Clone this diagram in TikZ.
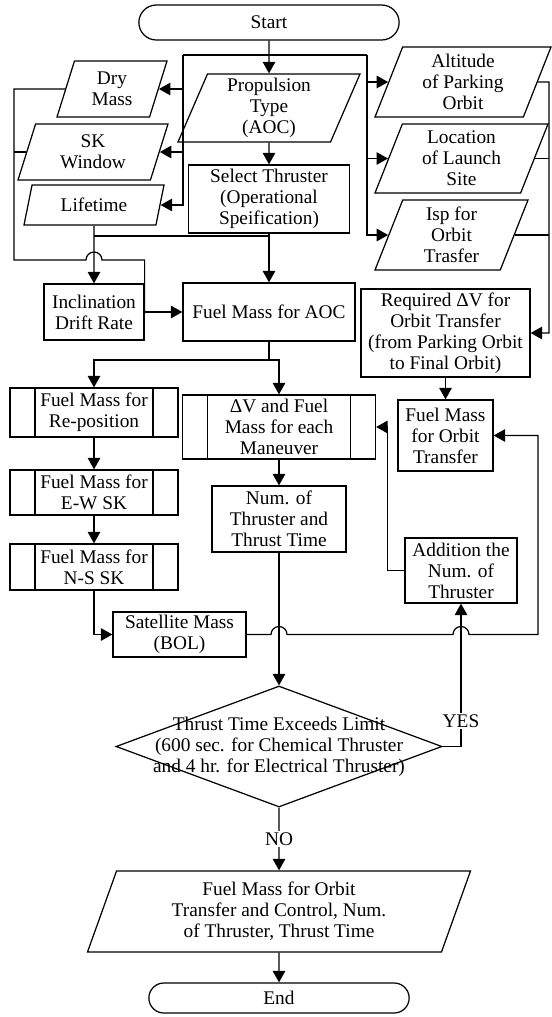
\documentclass[tikz,border=0pt]{standalone}
\usepackage{fontspec}
\setmainfont{Liberation Serif}
\usepackage{tikz}
\usetikzlibrary{shapes.geometric,shapes.misc,arrows.meta}

\tikzset{
  term/.style={draw,rounded rectangle,minimum width=5.44cm},
  io/.style={draw,trapezium,trapezium left angle=65,trapezium right angle=115,
    trapezium stretches body,align=center,inner sep=1pt},
  proc/.style={draw,rectangle,align=center,inner sep=1pt},
  sub/.style={proc,path picture={
    \draw ([xshift=0.5cm]path picture bounding box.north west) -- ([xshift=0.5cm]path picture bounding box.south west)
          ([xshift=-0.5cm]path picture bounding box.north east) -- ([xshift=-0.5cm]path picture bounding box.south east);}},
  dec/.style={draw,diamond,inner sep=0pt},
  arr/.style={-{Triangle[length=0.23cm,width=0.25cm]}}
}

\begin{document}
\begin{tikzpicture}[line width=0.7pt,font=\fontsize{11}{12}\selectfont]
  \useasboundingbox (0,0) rectangle (11.02,-20.34);
  % inputs
  \node[term,minimum height=0.70cm] (start) at (5.38,-0.45) {Start};
  \node[io,minimum width=3.64cm,minimum height=1.36cm] (prop) at (5.38,-2.16) {Propulsion\\Type\\(AOC)};
  \node[io,minimum width=2.20cm,minimum height=1.12cm] (dry) at (2.24,-1.78) {Dry\\Mass};
  \node[io,minimum width=3.00cm,minimum height=1.12cm] (sk) at (1.86,-3.04) {SK\\Window};
  \node[io,minimum width=2.80cm,minimum height=0.80cm] (life) at (1.88,-4.10) {Lifetime};
  \node[io,minimum width=3.52cm,minimum height=1.40cm] (alt) at (9.26,-1.64) {Altitude\\of Parking\\Orbit};
  \node[io,minimum width=3.46cm,minimum height=1.38cm] (loc) at (9.23,-3.17) {Location\\of Launch\\Site};
  \node[io,minimum width=3.06cm,minimum height=1.40cm] (isp) at (9.03,-4.70) {Isp for\\Orbit\\Trasfer};
  \node[proc,minimum width=3.22cm,minimum height=1.36cm] (sel) at (5.38,-3.98) {Select Thruster\\(Operational\\Speification)};
  % fuel mass blocks
  \node[proc,minimum width=3.44cm,minimum height=1.16cm] (aoc) at (5.38,-6.24) {Fuel Mass for AOC};
  \node[proc,minimum width=2.00cm,minimum height=1.12cm] (incl) at (1.88,-6.24) {Inclination\\Drift Rate};
  \node[proc,minimum width=3.38cm,minimum height=1.76cm] (req) at (8.91,-6.66) {Required ΔV for\\Orbit Transfer\\(from Parking Orbit\\to Final Orbit)};
  \node[proc,minimum width=1.90cm,minimum height=1.42cm] (forb) at (8.91,-8.71) {Fuel Mass\\for Orbit\\Transfer};
  \node[sub,minimum width=3.36cm,minimum height=0.98cm] (repos) at (1.88,-8.25) {Fuel Mass for\\Re-position};
  \node[sub,minimum width=3.36cm,minimum height=0.90cm] (ew) at (1.88,-9.85) {Fuel Mass for\\E-W SK};
  \node[sub,minimum width=3.36cm,minimum height=0.92cm] (ns) at (1.88,-11.34) {Fuel Mass for\\N-S SK};
  \node[sub,minimum width=3.86cm,minimum height=1.28cm] (man) at (5.58,-8.54) {ΔV and Fuel\\Mass for each\\Maneuver};
  \node[proc,minimum width=2.68cm,minimum height=1.32cm] (num) at (5.58,-10.38) {Num. of\\Thruster and\\Thrust Time};
  \node[proc,minimum width=2.24cm,minimum height=1.30cm] (add) at (9.22,-11.41) {Addition the\\Num. of\\Thruster};
  \node[proc,minimum width=2.66cm,minimum height=0.90cm] (sat) at (3.59,-12.69) {Satellite Mass\\(BOL)};
  % decision and result
  \node[dec,minimum width=6.52cm,minimum height=2.42cm,
    label={[align=center]center:{Thrust Time Exceeds Limit\\(600 sec. for Chemical Thruster\\and 4 hr. for Electrical Thruster)}}] (dia) at (5.58,-14.93) {};
  \node[io,minimum width=7.66cm,minimum height=1.62cm] (out) at (5.58,-18.23) {Fuel Mass for Orbit\\Transfer and Control, Num.\\of Thruster, Thrust Time};
  \node[term,minimum height=0.60cm] (stop) at (5.58,-19.96) {End};

  % top fork
  \coordinate (busL) at (3.66,-1.10);
  \coordinate (busR) at (7.34,-1.10);
  \coordinate (busE) at (10.98,-1.64);
  \draw[arr] (start) -- (prop);
  \draw (busL) -- (busR);
  \draw[arr] (busL) |- (dry);
  \draw[arr] (busL) |- (sk);
  \draw[arr] (busL) |- (life);
  \draw[arr] (busR) |- (alt);
  \draw[arr] (busR) |- (loc);
  \draw[arr] (busR) |- (isp);
  \draw[arr] (prop) -- (sel);
  \draw[arr] (sel) -- (aoc);

  % left side
  \coordinate (jn) at (1.88,-4.72);
  \coordinate (loopW) at (0.28,-5.20);
  \draw[arr] (life) -- (incl);
  \draw (jn) -- (jn -| sel);
  \draw (sk.west) -- (sk.west -| loopW);
  \draw (dry.west) -| (loopW) -- (1.72,-5.20) arc(180:0:0.16) -| (incl.east);
  \draw[arr] (incl) -- (aoc);

  % right side
  \draw[arr] (alt.east) -- (busE) |- (req);
  \draw (loc.east) -- (loc.east -| busE);
  \draw (isp.east) -- (isp.east -| busE);
  \draw[arr] (req) -- (forb);

  % middle
  \coordinate (split) at (5.38,-7.20);
  \draw (aoc) -- (split);
  \draw[arr] (split) -| (repos);
  \draw[arr] (split) -| (man);
  \draw[arr] (repos) -- (ew);
  \draw[arr] (ew) -- (ns);
  \draw[arr] (ns) |- (sat);
  \draw[arr] (man) -- (num);
  \draw[arr] (num) -- (dia);
  \draw[arr] (sat) -- (5.42,-12.69) arc(180:0:0.16) -- (9.06,-12.69) arc(180:0:0.16) -- (10.76,-12.69) |- (forb);
  \draw[arr] (dia) -| node[pos=0.59,fill=white,inner sep=1pt] {YES} (add);
  \draw[arr] (add.west) -- ++(-0.34,0) |- (man.east);
  \draw[arr] (dia) -- node[fill=white,inner sep=1pt] {NO} (out);
  \draw[arr] (out) -- (stop);
\end{tikzpicture}
\end{document}
